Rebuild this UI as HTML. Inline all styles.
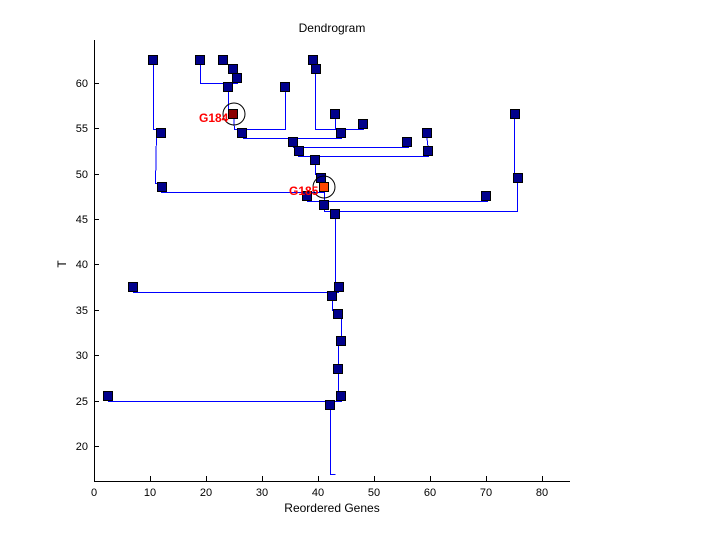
<!DOCTYPE html>
<html><head><style>body{margin:0;background:#fff}</style></head><body>
<svg width="720" height="540" xmlns="http://www.w3.org/2000/svg" font-family="Liberation Sans, sans-serif">
<rect width="720" height="540" fill="#fff"/>
<text x="332" y="32" font-size="12" text-anchor="middle">Dendrogram</text>
<text x="332" y="512" font-size="12" text-anchor="middle">Reordered Genes</text>
<text x="66" y="264" font-size="12" text-anchor="middle" transform="rotate(-90 66 264)">T</text>
<g stroke="#000" stroke-width="1" shape-rendering="crispEdges">
<line x1="94.5" y1="40" x2="94.5" y2="481"/>
<line x1="94" y1="481.5" x2="570" y2="481.5"/>
<line x1="94.5" y1="481" x2="94.5" y2="476"/><line x1="150.5" y1="481" x2="150.5" y2="476"/><line x1="206.5" y1="481" x2="206.5" y2="476"/><line x1="262.5" y1="481" x2="262.5" y2="476"/><line x1="318.5" y1="481" x2="318.5" y2="476"/><line x1="374.5" y1="481" x2="374.5" y2="476"/><line x1="430.5" y1="481" x2="430.5" y2="476"/><line x1="486.5" y1="481" x2="486.5" y2="476"/><line x1="542.5" y1="481" x2="542.5" y2="476"/>
<line x1="94" y1="446.5" x2="99" y2="446.5"/><line x1="94" y1="401.5" x2="99" y2="401.5"/><line x1="94" y1="355.5" x2="99" y2="355.5"/><line x1="94" y1="310.5" x2="99" y2="310.5"/><line x1="94" y1="264.5" x2="99" y2="264.5"/><line x1="94" y1="219.5" x2="99" y2="219.5"/><line x1="94" y1="174.5" x2="99" y2="174.5"/><line x1="94" y1="128.5" x2="99" y2="128.5"/><line x1="94" y1="83.5" x2="99" y2="83.5"/>
</g>
<g font-size="11" text-anchor="middle">
<text x="94" y="496">0</text><text x="150" y="496">10</text><text x="206" y="496">20</text><text x="262" y="496">30</text><text x="318" y="496">40</text><text x="374" y="496">50</text><text x="430" y="496">60</text><text x="486" y="496">70</text><text x="542" y="496">80</text>
</g>
<g font-size="11" text-anchor="end">
<text x="88" y="450">20</text><text x="88" y="405">25</text><text x="88" y="359">30</text><text x="88" y="314">35</text><text x="88" y="268">40</text><text x="88" y="223">45</text><text x="88" y="178">50</text><text x="88" y="132">55</text><text x="88" y="87">60</text>
</g>
<g stroke="#0000ff" stroke-width="1" fill="none" shape-rendering="crispEdges" transform="translate(0.5,0.5)">
<polyline points="153,60 153,129 156,129 156,133"/>
<polyline points="156,133 155,183 161,183 161,187"/>
<polyline points="161,187 161,192 324,192 324,187"/>
<polyline points="200,60 200,83 237,83 237,78"/>
<polyline points="223,60 223,64 233,64 233,69"/>
<polyline points="233,69 233,78 237,78"/>
<polyline points="228,87 228,111 233,111 233,114"/>
<polyline points="233,114 234,129 285,129 285,87"/>
<polyline points="243,133 243,138 341,138 341,133"/>
<polyline points="234,129 243,129 243,133"/>
<polyline points="313,60 315,69 315,129 363,129 363,124"/>
<polyline points="335,114 335,129"/>
<polyline points="341,129 341,133"/>
<polyline points="293,142 293,147 408,147 408,142"/>
<polyline points="293,137 293,142"/>
<polyline points="299,151 298,156 428,156 428,151 426,133"/>
<polyline points="299,147 299,151"/>
<polyline points="299,156 315,156 315,174 321,174 321,178"/>
<polyline points="321,178 321,183 324,183 324,187"/>
<polyline points="307,192 307,201 487,201 487,196"/>
<polyline points="324,192 324,211 517,211 517,178 514,178 514,114"/>
<polyline points="335,211 335,292"/>
<polyline points="133,287 133,292 338,292 338,287"/>
<polyline points="332,292 332,310 338,310 338,314"/>
<polyline points="338,314 338,318 341,318 341,341"/>
<polyline points="341,341 338,345 338,401"/>
<polyline points="108,396 108,401 341,401 341,396"/>
<polyline points="330,401 330,474 335,474"/>
</g>
<g fill="#00008b" stroke="#000" stroke-width="1" shape-rendering="crispEdges">
<rect x="148.5" y="55.5" width="9" height="9"/><rect x="195.5" y="55.5" width="9" height="9"/><rect x="218.5" y="55.5" width="9" height="9"/><rect x="228.5" y="64.5" width="9" height="9"/><rect x="232.5" y="73.5" width="9" height="9"/><rect x="223.5" y="82.5" width="9" height="9"/><rect x="280.5" y="82.5" width="9" height="9"/><rect x="308.5" y="55.5" width="9" height="9"/><rect x="311.5" y="64.5" width="9" height="9"/><rect x="330.5" y="109.5" width="9" height="9"/><rect x="358.5" y="119.5" width="9" height="9"/><rect x="336.5" y="128.5" width="9" height="9"/><rect x="237.5" y="128.5" width="9" height="9"/><rect x="288.5" y="137.5" width="9" height="9"/><rect x="402.5" y="137.5" width="9" height="9"/><rect x="294.5" y="146.5" width="9" height="9"/><rect x="422.5" y="128.5" width="9" height="9"/><rect x="423.5" y="146.5" width="9" height="9"/><rect x="310.5" y="155.5" width="9" height="9"/><rect x="316.5" y="173.5" width="9" height="9"/><rect x="302.5" y="191.5" width="9" height="9"/><rect x="481.5" y="191.5" width="9" height="9"/><rect x="319.5" y="200.5" width="9" height="9"/><rect x="510.5" y="109.5" width="9" height="9"/><rect x="513.5" y="173.5" width="9" height="9"/><rect x="330.5" y="209.5" width="9" height="9"/><rect x="156.5" y="128.5" width="9" height="9"/><rect x="157.5" y="182.5" width="9" height="9"/><rect x="128.5" y="282.5" width="9" height="9"/><rect x="334.5" y="282.5" width="9" height="9"/><rect x="327.5" y="291.5" width="9" height="9"/><rect x="333.5" y="309.5" width="9" height="9"/><rect x="336.5" y="336.5" width="9" height="9"/><rect x="333.5" y="364.5" width="9" height="9"/><rect x="103.5" y="391.5" width="9" height="9"/><rect x="336.5" y="391.5" width="9" height="9"/><rect x="325.5" y="400.5" width="9" height="9"/>
<rect x="228.5" y="109.5" width="9" height="9" fill="#8b0000"/>
<rect x="319.5" y="182.5" width="9" height="9" fill="#ff4500"/>
</g>
<circle cx="234" cy="114" r="11" fill="none" stroke="#000" stroke-width="1"/>
<circle cx="324" cy="187" r="11" fill="none" stroke="#000" stroke-width="1"/>
<g fill="#ff0000" font-size="12" font-weight="bold">
<text x="199" y="122">G184</text>
<text x="289" y="195">G185</text>
</g>
</svg>
</body></html>
